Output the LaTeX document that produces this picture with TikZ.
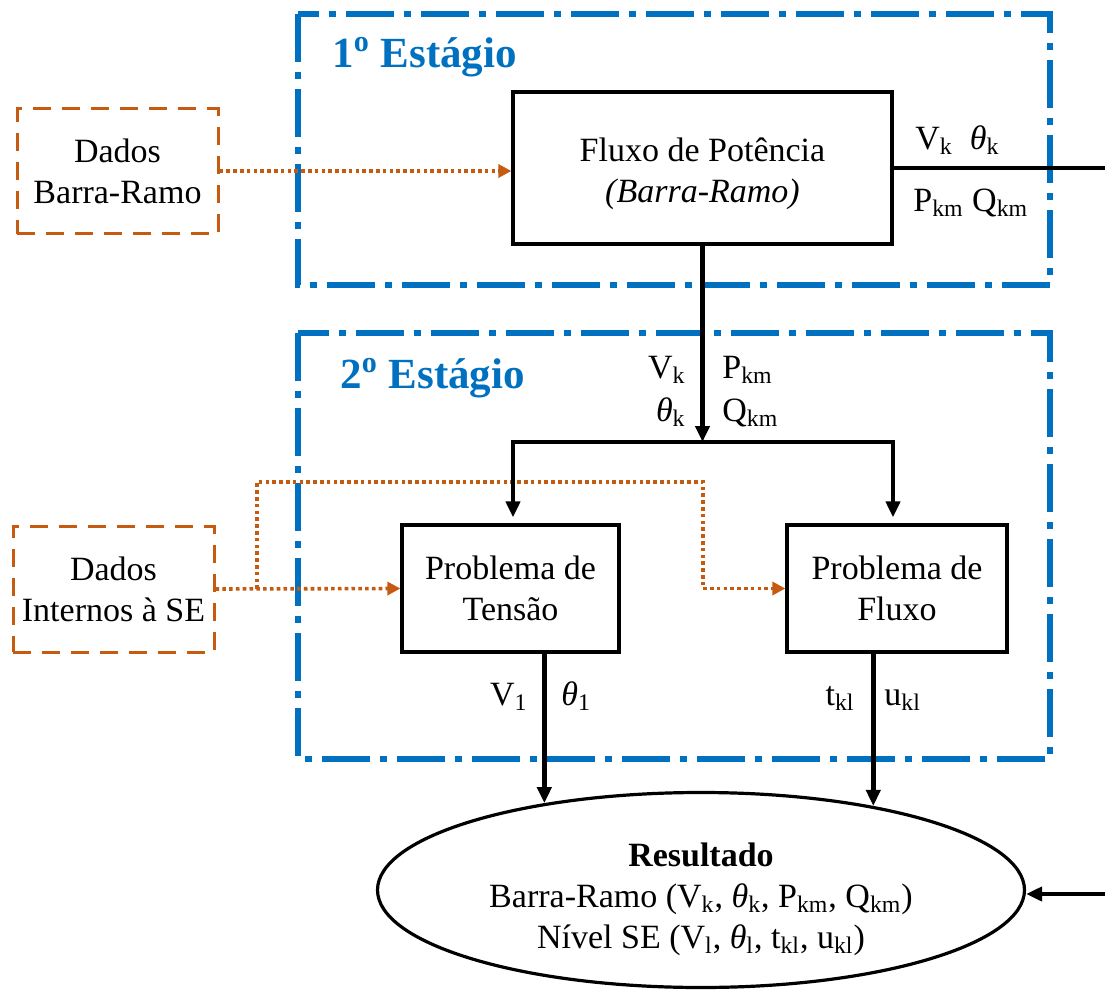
\documentclass[tikz,border=0pt]{standalone}
\usepackage{fontspec}
\setmainfont{Liberation Serif}
\usetikzlibrary{arrows.meta,shapes.geometric}

\definecolor{stageblue}{RGB}{0,112,192}
\definecolor{dataorange}{RGB}{197,90,17}

\newcommand\bodyfont{\fontsize{17}{20.5}\selectfont}
\newcommand\stagefont{\fontsize{21.5}{25}\selectfont\bfseries}
\newcommand\thetaI{\textit{θ}}

\begin{document}
\begin{tikzpicture}[x=0.5pt,y=-0.5pt,
  every node/.style={font=\bodyfont},
  stagebox/.style={draw=stageblue, line width=3pt,
    dash pattern=on 24pt off 5pt on 3.5pt off 5pt},
  stagelabel/.style={font=\stagefont, text=stageblue, anchor=base west, inner sep=0},
  procbox/.style={draw, line width=1.6pt, align=center, inner sep=0},
  databox/.style={draw=dataorange, line width=1.5pt, dash pattern=on 9pt off 5.5pt,
    align=center, inner sep=0},
  dataflow/.style={draw=dataorange, line width=1.8pt, dash pattern=on 1.8pt off 1.6pt,
    -{Triangle[length=6.5pt,width=6.5pt,fill=dataorange]}},
  flow/.style={line width=2.3pt, -{Triangle[length=8pt,width=7pt]}},
  lab/.style={inner sep=0},
  inner/.style={align=center, inner sep=0},
]
\useasboundingbox (0,0) rectangle (1105,991);
\clip (0,0) rectangle (1105,991);

% stage frames
\draw[stagebox] (298,14) rectangle (1050,285);
\draw[stagebox] (298,333) rectangle (1050,759);
\node[stagelabel] (st1) at (332,67) {1\textsuperscript{o} Estágio};
\node[stagelabel] (st2) at (340,388) {2\textsuperscript{o} Estágio};

% blocks
\node[procbox, minimum width=189.5pt, minimum height=76pt] (pf) at (702.5,168) {};
\node[inner] (pftext) at ([yshift=-3pt]pf.center)
  {Fluxo de Potência\\\textit{(Barra-Ramo)}};
\node[databox, minimum width=100.5pt, minimum height=62.5pt] (dbr) at (117.5,171)
  {Dados\\Barra-Ramo};
\node[procbox, minimum width=108.5pt, minimum height=63.5pt] (pt) at (510.5,588.5)
  {Problema de\\Tensão};
\node[procbox, minimum width=110pt, minimum height=63.5pt] (pfx) at (897,588.5)
  {Problema de\\Fluxo};
\node[databox, minimum width=100.5pt, minimum height=63pt] (dse) at (113.5,589)
  {Dados\\Internos à SE};
\node[ellipse, draw, line width=1.6pt, inner sep=0,
      minimum width=323.5pt, minimum height=97.5pt] (res) at (701,890) {};
\node[inner] (restext) at ([yshift=-4.5pt]res.center)
  {\textbf{Resultado}\\
   Barra-Ramo (V\textsubscript{k}, \thetaI\textsubscript{k}, P\textsubscript{km}, Q\textsubscript{km})\\
   Nível SE (V\textsubscript{l}, \thetaI\textsubscript{l}, t\textsubscript{kl}, u\textsubscript{kl})};

% input data
\draw[dataflow] (dbr.east) -- (dbr.east -| pf.west);
\coordinate (split) at (257,589);
\coordinate (turn) at (703,482);
\draw[dataflow] (dse.east) -- (pt.west);
\draw[dataflow] (split) |- (turn) |- (pfx.west);

% first stage to second stage
\coordinate (barL) at (513,442);
\coordinate (barR) at (893,442);
\draw[flow] (pf.south) -- (pf.south |- barL);
\draw[line width=2.3pt, {Triangle[length=8pt,width=7pt]}-{Triangle[length=8pt,width=7pt]},
      shorten <=3pt, shorten >=3pt]
  (pt.north -| barL) |- (barR) -- (pfx.north -| barR);

% second stage to result
\draw[flow] (res.151.3 |- pt.south) -- (res.151.3);
\draw[flow] (res.26 |- pfx.south) -- (res.26);

% first stage straight to result
\coordinate (rt) at (1135,168);
\draw[flow] (pf.east) -- (rt) |- ([yshift=-2pt]res.east);

% connector labels
\node[lab, anchor=base west] (l1) at (915,149) {V\textsubscript{k}\ \ \thetaI\textsubscript{k}};
\node[lab, anchor=base west] (l2) at (913,211) {P\textsubscript{km}\ Q\textsubscript{km}};
\node[lab, anchor=base east] (l3) at (686,378) {V\textsubscript{k}};
\node[lab, anchor=base east] (l4) at (686,421) {\thetaI\textsubscript{k}};
\node[lab, anchor=base west] (l5) at (722,378) {P\textsubscript{km}};
\node[lab, anchor=base west] (l6) at (722,421) {Q\textsubscript{km}};
\node[lab, anchor=base east] (l7) at (528,705) {V\textsubscript{1}};
\node[lab, anchor=base west] (l8) at (561,705) {\thetaI\textsubscript{1}};
\node[lab, anchor=base east] (l9) at (855,705) {t\textsubscript{kl}};
\node[lab, anchor=base west] (l10) at (884,705) {u\textsubscript{kl}};
\end{tikzpicture}
\end{document}
